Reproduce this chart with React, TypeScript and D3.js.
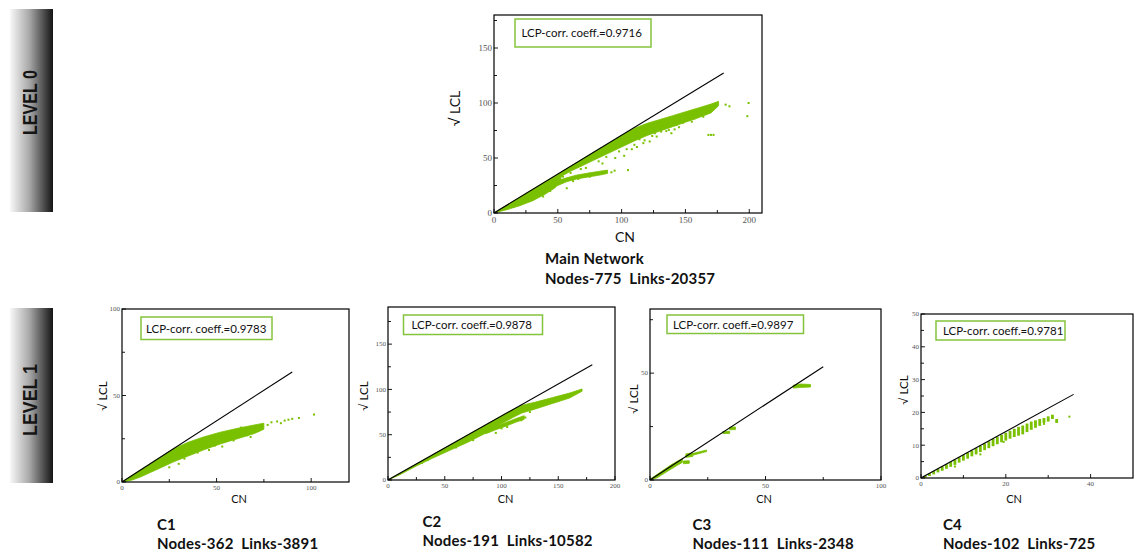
import React from 'react';
import * as d3 from 'd3';

// ---------------- DATA ----------------
// Main network dense band (CN, upper/lower sqrt(LCL))
const mainBandCN = [0, 10, 20, 30, 40, 48, 53, 60, 70, 80, 90, 100, 110, 120, 130, 140, 150, 160, 170, 176];
const mainBandUpper = [0, 7.1, 14.1, 21.2, 28.3, 33.9, 37.5, 42.4, 49.5, 56.6, 63.6, 70.7, 77.0, 81.5, 85.0, 88.5, 92.0, 95.5, 99.0, 101.5];
const mainBandLower = [0, 3.0, 6.5, 11.0, 17.0, 23.0, 33.5, 38.0, 43.5, 49.0, 54.5, 60.0, 65.5, 70.5, 74.5, 78.5, 82.5, 86.5, 91.0, 97.5];
const mainBranchCN = [44, 50, 57, 65, 75, 83, 89];
const mainBranchUpper = [26.0, 29.5, 32.0, 34.5, 36.5, 38.0, 39.0];
const mainBranchLower = [22.0, 25.0, 28.5, 31.0, 33.0, 34.5, 36.0];
const mainPointsCN = [199.5, 198.5, 181.5, 184.5, 168, 170, 172, 162.5, 164, 160, 153.5, 155, 150, 132.5, 139, 141.5, 127.5, 122, 119.5, 117, 135, 145, 105, 94.5, 92, 57, 38.5, 36, 62, 66, 75, 85, 95, 102, 108, 112, 47, 44, 30, 25, 15, 20, 114, 118, 124, 126, 131, 137, 143, 148, 157, 166, 110, 104, 98, 88, 82, 72, 68, 60, 54, 52];
const mainPointsLCL = [100, 88, 98.5, 97, 71, 71, 71, 90.5, 87.5, 92.5, 85, 83, 84, 77, 72.5, 76, 69.5, 65, 72, 63.5, 74.5, 78, 39, 38.5, 37, 22.5, 15, 15.5, 29, 31, 33, 45, 50, 52, 58, 60, 25, 20, 12, 10, 5.5, 7.5, 67, 66, 70, 72.5, 74, 75.5, 80, 82, 86, 90, 62, 58, 56, 51, 47, 41, 40, 36.5, 33, 31];
const mainLineCN = [0, 180];
const mainLineLCL = [0, 127.3];

// C1
const c1BandCN = [0, 5, 10, 15, 20, 27, 35, 43, 52, 61, 70, 75];
const c1BandUpper = [0, 3.5, 7.1, 10.6, 14.1, 19.1, 23.0, 26.0, 28.8, 31.0, 33.0, 34.0];
const c1BandLower = [0, 1.0, 3.0, 5.5, 8.0, 11.5, 15.0, 18.5, 22.0, 25.0, 28.0, 30.5];
const c1PointsCN = [77, 79, 82, 84, 86, 88, 90, 93.5, 101.5, 74, 72, 66, 59, 49, 46, 56, 63, 40, 33, 30, 25, 53, 68];
const c1PointsLCL = [33, 34.5, 35, 34, 35.5, 36, 36.5, 37, 39, 31, 29.5, 27, 24, 21, 18.5, 28.5, 31.5, 17, 13.5, 10.5, 8.5, 20.5, 26];
const c1LineCN = [0, 90];
const c1LineLCL = [0, 63.6];

// C2
const c2BandCN = [0, 10, 25, 40, 55, 70, 85, 100, 110, 118, 130, 145, 160, 171];
const c2BandUpper = [0, 7.0, 17.7, 28.3, 38.9, 49.5, 60.1, 70.7, 77.8, 82.5, 86.0, 91.0, 96.0, 100.5];
const c2BandLower = [0, 5.5, 15.5, 24.5, 33.0, 41.5, 51.0, 62.0, 69.0, 74.0, 78.5, 84.5, 90.5, 98.0];
const c2BranchCN = [86, 95, 105, 113, 120];
const c2BranchUpper = [54, 59, 64, 68, 71];
const c2BranchLower = [51, 55.5, 60, 64, 67];
const c2PointsCN = [88.5, 82.5, 65, 60, 75, 100, 113, 117.5, 121, 105, 95, 140, 150, 125, 30, 35];
const c2PointsLCL = [53.5, 51.5, 40.5, 36, 44, 57, 66, 66, 69, 58.5, 52, 84, 87.5, 75, 19, 22];
const c2LineCN = [0, 180];
const c2LineLCL = [0, 127.3];

// C3 clusters
const c3ACN = [0, 3, 6, 9, 12, 14];
const c3AUpper = [0.4, 2.6, 4.8, 7.0, 8.9, 10.0];
const c3ALower = [0, 1.0, 3.0, 5.0, 7.0, 8.2];
const c3BCN = [15.5, 17, 18.5];
const c3BUpper = [12.2, 12.5, 12.6];
const c3BLower = [10.6, 10.8, 11.0];
const c3CCN = [18.5, 21, 24.5];
const c3CUpper = [12.4, 13.1, 14.0];
const c3CLower = [11.6, 12.3, 13.3];
const c3DCN = [14.5, 17];
const c3DUpper = [8.9, 9.0];
const c3DLower = [7.6, 7.8];
const c3ECN = [31.5, 34.5];
const c3EUpper = [22.7, 22.8];
const c3ELower = [21.7, 21.8];
const c3FCN = [34.5, 37];
const c3FUpper = [24.7, 24.8];
const c3FLower = [23.5, 23.6];
const c3GCN = [62, 65, 69.5];
const c3GUpper = [44.3, 44.9, 44.7];
const c3GLower = [43.0, 43.3, 43.5];
const c3LineCN = [0, 75];
const c3LineLCL = [0, 53];

// C4 columns at integer CN
const c4ColCN = [1, 2, 3, 4, 5, 6, 7, 8, 9, 10, 11, 12, 13, 14, 15, 16, 17, 18, 19, 20, 21, 22, 23, 24, 25, 26, 27, 28, 29, 30, 31, 32];
const c4ColTop = [0.7, 1.4, 2.1, 2.8, 3.5, 4.2, 4.9, 5.6, 6.3, 7.0, 7.7, 8.4, 9.1, 9.8, 10.5, 11.2, 11.9, 12.6, 13.2, 13.8, 14.4, 15.0, 15.6, 16.0, 16.6, 17.2, 17.6, 18.0, 18.3, 18.8, 19.3, 18.0];
const c4ColBottom = [0.1, 0.6, 1.1, 1.7, 2.2, 2.8, 3.4, 4.0, 4.7, 5.3, 5.9, 6.6, 7.2, 7.9, 8.5, 9.1, 9.7, 10.3, 10.9, 11.4, 12.0, 12.5, 12.9, 13.3, 14.0, 14.7, 15.3, 15.9, 16.8, 17.2, 18.0, 16.8];
const c4PointsCN = [35, 29, 26, 19.5, 14, 8, 32];
const c4PointsLCL = [18.7, 16.5, 15.3, 11, 7.2, 3.5, 17.3];
const c4LineCN = [0, 36];
const c4LineLCL = [0, 25.5];

// Texts
const coeffs = ['0.9716', '0.9783', '0.9878', '0.9897', '0.9781'];
const titles = ['Main Network', 'C1', 'C2', 'C3', 'C4'];
const nodes = [775, 362, 191, 111, 102];
const links = [20357, 3891, 10582, 2348, 725];

// Ticks
const mainXMajor = [0, 50, 100, 150, 200];
const mainXMinor = [25, 75, 125, 175];
const mainYMajor = [0, 50, 100, 150];
const mainYMinor = [25, 75, 125, 175];
const c1XMajor = [0, 50, 100];
const c1XMinor = [25, 75];
const c1YMajor = [0, 50, 100];
const c1YMinor = [25, 75];
const c2XMajor = [0, 50, 100, 150, 200];
const c2XMinor = [25, 75, 125, 175];
const c2YMajor = [0, 50, 100, 150];
const c2YMinor = [25, 75, 125, 175];
const c3XMajor = [0, 50, 100];
const c3XMinor = [25, 75];
const c3YMajor = [0, 50];
const c3YMinor = [25, 75];
const c4XMajor = [0, 20, 40];
const c4XMinor = [10, 30];
const c4YMajor = [0, 10, 20, 30, 40, 50];
const c4YMinor = [5, 15, 25, 35, 45];

// ---------------- STYLE / LAYOUT ----------------
const GREEN = '#79c000';
const BOX_GREEN = '#84c43c';
const SANS = 'Lato, "Noto Sans", sans-serif';
const SERIF = '"Liberation Serif", "DejaVu Serif", serif';

type Band = { cn: number[]; upper: number[]; lower: number[] };
type Cfg = {
  id: string;
  xRange: [number, number];
  yRange: [number, number];
  xDomain: [number, number];
  yDomain: [number, number];
  xMajor: number[]; xMinor: number[]; yMajor: number[]; yMinor: number[];
  tickFs: number;
  bands: Band[];
  pts?: { cn: number[]; lcl: number[] };
  cols?: { cn: number[]; top: number[]; bottom: number[] };
  line: { cn: number[]; lcl: number[] };
  box: { x: number; y: number; w: number; h: number; tx: number; ty: number };
  cnLab: { x: number; y: number; fs: number };
  lclLab: { x: number; y: number; fs: number };
  title: { x: number; y1: number; y2: number; fs: number };
  idx: number;
};

const panels: Cfg[] = [
  {
    id: 'main', idx: 0,
    xRange: [494, 762], yRange: [213, 15], xDomain: [0, 210], yDomain: [0, 180],
    xMajor: mainXMajor, xMinor: mainXMinor, yMajor: mainYMajor, yMinor: mainYMinor,
    tickFs: 9,
    bands: [
      { cn: mainBandCN, upper: mainBandUpper, lower: mainBandLower },
      { cn: mainBranchCN, upper: mainBranchUpper, lower: mainBranchLower },
    ],
    pts: { cn: mainPointsCN, lcl: mainPointsLCL },
    line: { cn: mainLineCN, lcl: mainLineLCL },
    box: { x: 515, y: 19, w: 136, h: 28, tx: 521.5, ty: 37 },
    cnLab: { x: 625, y: 242, fs: 14 },
    lclLab: { x: 460, y: 108.5, fs: 14 },
    title: { x: 545, y1: 264, y2: 284, fs: 15 },
  },
  {
    id: 'c1', idx: 1,
    xRange: [122, 349], yRange: [482, 309], xDomain: [0, 120], yDomain: [0, 100],
    xMajor: c1XMajor, xMinor: c1XMinor, yMajor: c1YMajor, yMinor: c1YMinor,
    tickFs: 7,
    bands: [{ cn: c1BandCN, upper: c1BandUpper, lower: c1BandLower }],
    pts: { cn: c1PointsCN, lcl: c1PointsLCL },
    line: { cn: c1LineCN, lcl: c1LineLCL },
    box: { x: 141, y: 317, w: 131, h: 22.5, tx: 146, ty: 333 },
    cnLab: { x: 239, y: 503, fs: 11 },
    lclLab: { x: 106.5, y: 396, fs: 11.5 },
    title: { x: 157, y1: 530, y2: 549, fs: 15 },
  },
  {
    id: 'c2', idx: 2,
    xRange: [388, 615], yRange: [480, 307], xDomain: [0, 200], yDomain: [0, 191],
    xMajor: c2XMajor, xMinor: c2XMinor, yMajor: c2YMajor, yMinor: c2YMinor,
    tickFs: 7,
    bands: [
      { cn: c2BandCN, upper: c2BandUpper, lower: c2BandLower },
      { cn: c2BranchCN, upper: c2BranchUpper, lower: c2BranchLower },
    ],
    pts: { cn: c2PointsCN, lcl: c2PointsLCL },
    line: { cn: c2LineCN, lcl: c2LineLCL },
    box: { x: 403.5, y: 315, w: 139, h: 19.5, tx: 411.5, ty: 329 },
    cnLab: { x: 505.5, y: 503, fs: 11 },
    lclLab: { x: 368, y: 396, fs: 11.5 },
    title: { x: 422.5, y1: 527, y2: 546, fs: 15 },
  },
  {
    id: 'c3', idx: 3,
    xRange: [650, 881], yRange: [480, 309], xDomain: [0, 100], yDomain: [0, 80],
    xMajor: c3XMajor, xMinor: c3XMinor, yMajor: c3YMajor, yMinor: c3YMinor,
    tickFs: 7,
    bands: [
      { cn: c3ACN, upper: c3AUpper, lower: c3ALower },
      { cn: c3BCN, upper: c3BUpper, lower: c3BLower },
      { cn: c3CCN, upper: c3CUpper, lower: c3CLower },
      { cn: c3DCN, upper: c3DUpper, lower: c3DLower },
      { cn: c3ECN, upper: c3EUpper, lower: c3ELower },
      { cn: c3FCN, upper: c3FUpper, lower: c3FLower },
      { cn: c3GCN, upper: c3GUpper, lower: c3GLower },
    ],
    line: { cn: c3LineCN, lcl: c3LineLCL },
    box: { x: 667, y: 315, w: 136.5, h: 18.5, tx: 673, ty: 329 },
    cnLab: { x: 764, y: 503, fs: 11 },
    lclLab: { x: 638, y: 399, fs: 11.5 },
    title: { x: 692.5, y1: 530, y2: 549, fs: 15 },
  },
  {
    id: 'c4', idx: 4,
    xRange: [921, 1133], yRange: [478, 314], xDomain: [0, 50], yDomain: [0, 50],
    xMajor: c4XMajor, xMinor: c4XMinor, yMajor: c4YMajor, yMinor: c4YMinor,
    tickFs: 7,
    bands: [],
    cols: { cn: c4ColCN, top: c4ColTop, bottom: c4ColBottom },
    pts: { cn: c4PointsCN, lcl: c4PointsLCL },
    line: { cn: c4LineCN, lcl: c4LineLCL },
    box: { x: 936, y: 321, w: 129, h: 19, tx: 943, ty: 335 },
    cnLab: { x: 1014, y: 503, fs: 11 },
    lclLab: { x: 908, y: 390, fs: 11.5 },
    title: { x: 943, y1: 530, y2: 549, fs: 15 },
  },
];

function Panel({ c }: { c: Cfg }) {
  const x = d3.scaleLinear().domain(c.xDomain).range(c.xRange);
  const y = d3.scaleLinear().domain(c.yDomain).range(c.yRange);
  const [left, right] = c.xRange;
  const [bottom, top] = c.yRange;
  const area = (b: Band) =>
    d3.area<number>()
      .x((i) => x(b.cn[i]))
      .y0((i) => y(b.lower[i]))
      .y1((i) => y(b.upper[i]))(d3.range(b.cn.length)) || '';
  const lineGen = d3.line<number>()
    .x((i) => x(c.line.cn[i]))
    .y((i) => y(c.line.lcl[i]));
  const clipId = `clip-${c.id}`;
  return (
    <g>
      <defs>
        <clipPath id={clipId}>
          <rect x={left} y={top} width={right - left} height={bottom - top} />
        </clipPath>
      </defs>
      <g clipPath={`url(#${clipId})`}>
        {c.bands.map((b, k) => (
          <path key={k} d={area(b)} fill={GREEN} stroke={GREEN} strokeWidth={0.8} />
        ))}
        {c.cols &&
          c.cols.cn.map((v, i) => (
            <rect key={i} x={x(v) - 1.4} width={2.8}
              y={y(c.cols!.top[i])} height={Math.max(1.5, y(c.cols!.bottom[i]) - y(c.cols!.top[i]))}
              fill={GREEN} />
          ))}
        {c.pts &&
          c.pts.cn.map((v, i) => (
            <rect key={i} x={x(v) - 1} y={y(c.pts!.lcl[i]) - 1} width={2} height={2} fill={GREEN} />
          ))}
        <path d={lineGen(d3.range(c.line.cn.length)) || ''} stroke="#000" strokeWidth={1.1} fill="none" />
      </g>
      {/* frame */}
      <rect x={left} y={top} width={right - left} height={bottom - top} fill="none" stroke="#000" strokeWidth={1.2} />
      {/* ticks */}
      {c.xMajor.map((t) => (
        <g key={'xm' + t}>
          <line x1={x(t)} x2={x(t)} y1={bottom} y2={bottom - 4} stroke="#000" strokeWidth={0.9} />
          <text x={x(t)} y={bottom + (c.idx === 0 ? 9.5 : 8)} fontFamily={SERIF} fontSize={c.tickFs}
            textAnchor="middle" fill="#555">{t}</text>
        </g>
      ))}
      {c.xMinor.map((t) => (
        <line key={'xn' + t} x1={x(t)} x2={x(t)} y1={bottom} y2={bottom - 3} stroke="#000" strokeWidth={0.9} />
      ))}
      {c.yMajor.map((t) => (
        <g key={'ym' + t}>
          <line x1={left} x2={left + 4} y1={y(t)} y2={y(t)} stroke="#000" strokeWidth={0.9} />
          <text x={left - 2} y={y(t) + c.tickFs * 0.33} fontFamily={SERIF} fontSize={c.tickFs}
            textAnchor="end" fill="#555">{t}</text>
        </g>
      ))}
      {c.yMinor.map((t) => (
        <line key={'yn' + t} x1={left} x2={left + 3} y1={y(t)} y2={y(t)} stroke="#000" strokeWidth={0.9} />
      ))}
      {/* coefficient box */}
      <rect x={c.box.x} y={c.box.y} width={c.box.w} height={c.box.h} fill="#fff" stroke={BOX_GREEN} strokeWidth={1.5} />
      <text x={c.box.tx} y={c.box.ty} fontFamily={SANS} fontSize={11.5} fill="#111">
        {`LCP-corr. coeff.=${coeffs[c.idx]}`}
      </text>
      {/* axis labels */}
      <text x={c.cnLab.x} y={c.cnLab.y} fontFamily={SANS} fontSize={c.cnLab.fs} textAnchor="middle" fill="#111">CN</text>
      <text transform={`translate(${c.lclLab.x},${c.lclLab.y}) rotate(-90)`} fontFamily={SANS}
        fontSize={c.lclLab.fs} textAnchor="middle" fill="#111" style={{ whiteSpace: 'pre' }}>{'√ LCL'}</text>
      {/* titles */}
      <text x={c.title.x} y={c.title.y1} fontFamily={SANS} fontWeight="bold" fontSize={c.title.fs} fill="#111"
        letterSpacing={0.2}>
        {titles[c.idx]}
      </text>
      <text x={c.title.x} y={c.title.y2} fontFamily={SANS} fontWeight="bold" fontSize={c.title.fs} fill="#111"
        letterSpacing={0.2} style={{ whiteSpace: 'pre' }}>
        {`Nodes-${nodes[c.idx]}  Links-${links[c.idx]}`}
      </text>
    </g>
  );
}

export default function App() {
  return (
    <svg width={1143} height={554} style={{ position: 'absolute', left: 0, top: 0, background: '#fff' }}
      xmlns="http://www.w3.org/2000/svg">
      <defs>
        <linearGradient id="lvlGrad" x1="0" x2="1" y1="0" y2="0">
          <stop offset="0" stopColor="#f8f8f8" />
          <stop offset="0.45" stopColor="#a8a8a8" />
          <stop offset="1" stopColor="#141414" />
        </linearGradient>
      </defs>
      <rect x={0} y={0} width={1143} height={554} fill="#fff" />
      {/* level banners */}
      <rect x={10} y={9} width={43} height={203} fill="url(#lvlGrad)" />
      <text transform="translate(36.5,102.5) rotate(-90)" textAnchor="middle" fontFamily='"Liberation Sans", Arial, sans-serif'
        fontWeight="bold" fontSize={21} fill="#151515" textLength={65} lengthAdjust="spacingAndGlyphs">LEVEL 0</text>
      <rect x={10} y={308} width={43} height={175} fill="url(#lvlGrad)" />
      <text transform="translate(36.5,400) rotate(-90)" textAnchor="middle" fontFamily='"Liberation Sans", Arial, sans-serif'
        fontWeight="bold" fontSize={21} fill="#151515" textLength={72} lengthAdjust="spacingAndGlyphs">LEVEL 1</text>
      {panels.map((p) => (
        <Panel key={p.id} c={p} />
      ))}
    </svg>
  );
}
